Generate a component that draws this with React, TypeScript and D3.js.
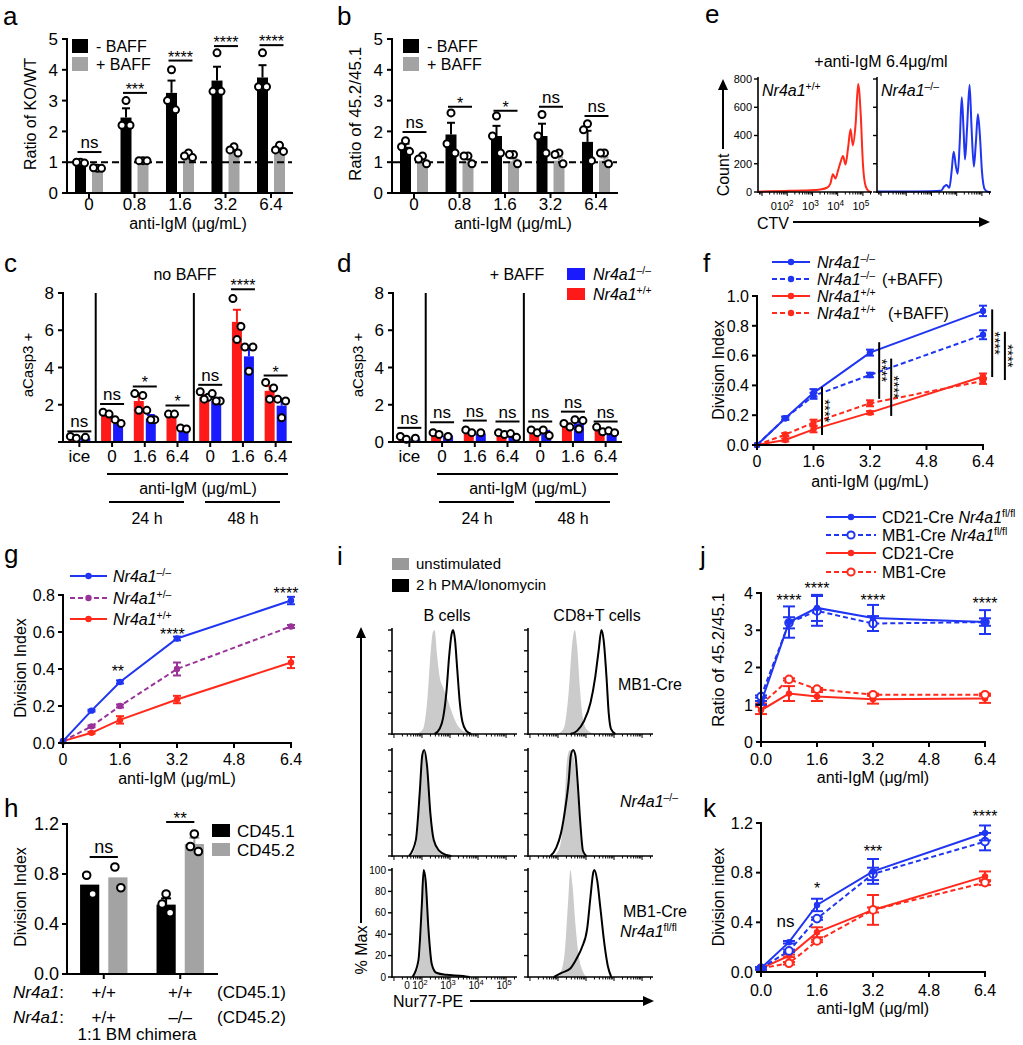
import React from "react";
import * as d3 from "d3";

const FONT = "'Liberation Sans', Arial, Helvetica, sans-serif";
const K = "#000";
const GRAY = "#a3a3a3";
const BAR_RED = "#ff1a1a";
const BAR_BLUE = "#1a1aff";
const RED = "#ff2a1c";
const BLUE = "#1f35f2";
const PURPLE = "#993399";
const HIST_FILL = "#cbcbcb";
const MU = "\u03bc";

// ---------------- panel a / b ----------------
const doseCats = ["0", "0.8", "1.6", "3.2", "6.4"];
const aNoBaff = [1.0, 2.45, 3.25, 3.65, 3.75];
const aNoBaffErr = [0.03, 0.3, 0.4, 0.45, 0.4];
const aBaff = [0.82, 1.05, 1.2, 1.3, 1.38];
const aBaffErr = [0.02, 0.02, 0.05, 0.08, 0.08];
const aNoBaffPts = [[1.0, 1.0, 0.97], [3.0, 2.2, 2.2], [4.0, 3.0, 2.7], [4.55, 3.3, 3.3], [4.55, 3.45, 3.45]];
const aBaffPts = [[0.8, 0.82, 0.8], [1.05, 1.05, 1.05], [1.3, 1.2, 1.15], [1.5, 1.4, 1.3], [1.55, 1.4, 1.35]];
const aSig = ["ns", "***", "****", "****", "****"];
const aSigY = [1.33, 3.25, 4.3, 4.77, 4.8];

const bNoBaff = [1.5, 1.9, 1.85, 1.85, 1.66];
const bNoBaffErr = [0.1, 0.38, 0.33, 0.4, 0.36];
const bBaff = [1.05, 1.02, 1.03, 1.05, 1.05];
const bBaffErr = [0.06, 0.07, 0.08, 0.1, 0.1];
const bNoBaffPts = [[1.7, 1.5, 1.35], [2.6, 1.6, 1.3], [2.5, 1.85, 1.3], [2.55, 1.85, 1.3], [2.25, 2.05, 1.05]];
const bBaffPts = [[1.2, 1.1, 0.95], [1.2, 1.2, 0.95], [1.25, 1.25, 0.95], [1.3, 1.25, 0.95], [1.3, 1.3, 0.95]];
const bSig = ["ns", "*", "*", "ns", "ns"];
const bSigY = [1.98, 2.8, 2.67, 2.8, 2.5];

// ---------------- panel c / d ----------------
const caspCats = ["ice", "0", "1.6", "6.4", "0", "1.6", "6.4"];
const cWT = [0.2, 1.5, 2.2, 1.5, 2.4, 6.45, 2.75];
const cWTErr = [0.05, 0.05, 0.28, 0.02, 0.12, 0.65, 0.25];
const cKO = [0.2, 1.0, 1.25, 0.75, 2.2, 4.6, 1.95];
const cKOErr = [0.03, 0.15, 0.2, 0.05, 0.12, 0.35, 0.3];
const cWTPts = [[0.3, 0.2], [1.6, 1.5], [2.6, 2.5, 1.7], [1.5, 1.5], [2.7, 2.4, 2.3], [7.7, 6.2, 5.5], [3.2, 2.9, 2.3]];
const cKOPts = [[0.25], [1.2, 1.0], [1.7, 1.2, 1.2], [0.75, 0.7], [2.6, 2.2, 2.2], [5.1, 5.1, 3.8], [2.3, 2.2, 1.3]];
const cSig = ["ns", "ns", "*", "*", "ns", "****", "*"];
const cSigY = [0.57, 2.04, 2.98, 1.96, 3.07, 8.2, 3.57];

const dWT = [0.2, 0.45, 0.6, 0.45, 0.55, 0.9, 0.6];
const dWTErr = [0.05, 0.05, 0.05, 0.05, 0.05, 0.1, 0.1];
const dKO = [0.15, 0.35, 0.45, 0.3, 0.5, 1.0, 0.45];
const dKOErr = [0.03, 0.03, 0.03, 0.1, 0.1, 0.15, 0.05];
const dWTPts = [[0.3, 0.15], [0.5, 0.4], [0.65, 0.5], [0.5, 0.4], [0.65, 0.5], [1.0, 0.8], [0.8, 0.55]];
const dKOPts = [[0.2], [0.3], [0.5], [0.45, 0.25], [0.65, 0.35], [1.2, 1.15, 0.7], [0.6, 0.5]];
const dSig = ["ns", "ns", "ns", "ns", "ns", "ns", "ns"];
const dSigY = [0.76, 1.06, 1.15, 1.1, 1.1, 1.63, 1.1];

// ---------------- panel e (CTV histograms) ----------------
const eWTLog = [0.84, 1.31, 2.0, 2.64, 3.1, 3.31, 3.57, 3.71, 3.81, 3.91, 4.01, 4.11, 4.21, 4.31, 4.41, 4.51, 4.6, 4.71, 4.81, 4.91, 5.0, 5.11, 5.24, 5.34];
const eWTCount = [2, 5, 8, 10, 14, 18, 30, 60, 125, 95, 150, 210, 255, 195, 310, 445, 330, 480, 765, 560, 200, 40, 5, 0];
const eKOLog = [0.84, 1.91, 2.97, 3.37, 3.51, 3.6, 3.71, 3.8, 3.88, 3.97, 4.04, 4.12, 4.2, 4.27, 4.33, 4.41, 4.51, 4.59, 4.68, 4.76, 4.84, 4.92, 5.0, 5.11, 5.24, 5.34];
const eKOCount = [3, 3, 5, 8, 40, 50, 30, 150, 285, 180, 130, 350, 670, 450, 230, 450, 760, 450, 180, 350, 550, 400, 150, 20, 2, 0];

// ---------------- panel f ----------------
const doseX = [0, 0.8, 1.6, 3.2, 6.4];
const fKO = [0, 0.18, 0.35, 0.62, 0.9];
const fKOErr = [0, 0.01, 0.025, 0.02, 0.035];
const fKOBaff = [0, 0.18, 0.33, 0.47, 0.74];
const fKOBaffErr = [0, 0.01, 0.02, 0.015, 0.03];
const fWT = [0, 0.034, 0.105, 0.217, 0.46];
const fWTErr = [0, 0.01, 0.02, 0.01, 0.02];
const fWTBaff = [0, 0.07, 0.15, 0.28, 0.43];
const fWTBaffErr = [0, 0.01, 0.02, 0.02, 0.02];
const fSigX = [1.84, 3.46, 3.8, 6.66, 7.02];
const fSigTop = [0.39, 0.69, 0.58, 0.91, 0.76];
const fSigBot = [0.067, 0.31, 0.195, 0.456, 0.436];

// ---------------- panel g ----------------
const gKO = [0.01, 0.175, 0.33, 0.565, 0.77];
const gKOErr = [0, 0.005, 0.008, 0.01, 0.02];
const gHet = [0.01, 0.09, 0.2, 0.4, 0.63];
const gHetErr = [0, 0.005, 0.008, 0.035, 0.008];
const gWT = [0.01, 0.055, 0.125, 0.235, 0.435];
const gWTErr = [0, 0.005, 0.02, 0.02, 0.03];
const gSig = ["**", "****", "****"];
const gSigX = [1.54, 3.07, 6.26];
const gSigY = [0.405, 0.605, 0.827];

// ---------------- panel h ----------------
const hGroups = ["wt", "ko"];
const hCD451 = [0.715, 0.555];
const hCD451Err = [0, 0.05];
const hCD452 = [0.773, 1.04];
const hCD452Err = [0, 0.05];
const hCD451Pts = [[0.79, 0.64], [0.64, 0.56, 0.49]];
const hCD452Pts = [[0.856, 0.69], [1.12, 1.02, 0.98]];
const hSig = ["ns", "**"];
const hSigY = [0.936, 1.216];
const hRow1 = ["+/+", "+/+"];
const hRow2 = ["+/+", "\u2013/\u2013"];

// ---------------- panel i (Nur77 histograms) ----------------
const iMb1BUnLog = [1.8, 2.04, 2.18, 2.3, 2.39, 2.45, 2.54, 2.63, 2.75, 2.89, 3.05, 3.23, 3.41, 3.64, 3.82];
const iMb1BUnPct = [0, 5, 30, 75, 98, 100, 75, 55, 45, 35, 22, 10, 4, 1, 0];
const iMb1BStLog = [2.45, 2.63, 2.75, 2.87, 2.97, 3.05, 3.11, 3.18, 3.25, 3.35, 3.44, 3.58, 3.76];
const iMb1BStPct = [0, 5, 15, 40, 75, 95, 100, 90, 65, 30, 12, 3, 0];
const iMb1TUnLog = [1.97, 2.2, 2.38, 2.5, 2.6, 2.68, 2.78, 2.89, 3.04, 3.28];
const iMb1TUnPct = [0, 5, 40, 85, 100, 85, 45, 15, 4, 0];
const iMb1TStLog = [2.44, 2.68, 2.92, 3.16, 3.33, 3.45, 3.55, 3.63, 3.73, 3.81, 3.89, 4.05];
const iMb1TStPct = [0, 3, 12, 30, 55, 80, 100, 90, 55, 20, 5, 0];
const iKoBUnLog = [1.62, 1.82, 1.94, 2.04, 2.1, 2.18, 2.28, 2.39, 2.57, 2.81, 2.99];
const iKoBUnPct = [0, 15, 60, 95, 100, 80, 45, 18, 5, 1, 0];
const iKoBStLog = [1.54, 1.78, 1.92, 2.01, 2.08, 2.18, 2.3, 2.42, 2.61, 2.87, 3.05];
const iKoBStPct = [0, 15, 60, 95, 100, 85, 40, 15, 5, 1, 0];
const iKoTUnLog = [1.85, 2.08, 2.23, 2.32, 2.42, 2.54, 2.63, 2.73, 2.82, 2.94];
const iKoTUnPct = [0, 10, 50, 90, 100, 95, 80, 50, 15, 0];
const iKoTStLog = [1.73, 1.94, 2.11, 2.26, 2.38, 2.46, 2.54, 2.62, 2.7, 2.8, 2.89, 3.01];
const iKoTStPct = [0, 8, 22, 45, 70, 95, 100, 95, 70, 30, 5, 0];
const iFlBUnLog = [1.7, 1.92, 2.01, 2.08, 2.16, 2.25, 2.37, 2.57, 2.99, 3.58];
const iFlBUnPct = [0, 15, 60, 100, 85, 40, 12, 4, 2, 0];
const iFlBStLog = [1.66, 1.87, 1.99, 2.06, 2.13, 2.23, 2.35, 2.51, 2.87, 3.47, 3.7];
const iFlBStPct = [0, 15, 65, 100, 90, 45, 12, 4, 2, 1, 0];
const iFlTUnLog = [2.03, 2.23, 2.36, 2.44, 2.52, 2.62, 2.74, 2.89, 3.04];
const iFlTUnPct = [0, 20, 70, 100, 85, 50, 20, 5, 0];
const iFlTStLog = [1.85, 2.14, 2.44, 2.68, 2.86, 3.04, 3.16, 3.26, 3.3, 3.4, 3.51, 3.66, 3.78, 3.9];
const iFlTStPct = [0, 4, 8, 18, 28, 45, 75, 98, 100, 90, 65, 30, 10, 0];

// ---------------- panel j / k ----------------
const jCd21Ko = [1.05, 3.22, 3.6, 3.33, 3.22];
const jCd21KoErr = [0.05, 0.42, 0.35, 0.35, 0.32];
const jMb1Ko = [1.22, 3.2, 3.52, 3.18, 3.22];
const jMb1KoErr = [0.03, 0.15, 0.4, 0.2, 0.1];
const jCd21 = [0.85, 1.3, 1.22, 1.15, 1.17];
const jCd21Err = [0.1, 0.2, 0.12, 0.12, 0.12];
const jMb1 = [1.0, 1.68, 1.42, 1.27, 1.27];
const jMb1Err = [0.03, 0.03, 0.03, 0.03, 0.03];
const jSig = ["****", "****", "****", "****"];
const jSigX = [0.8, 1.6, 3.2, 6.4];
const jSigY = [3.89, 4.21, 3.89, 3.81];

const kCd21Ko = [0.03, 0.24, 0.54, 0.81, 1.12];
const kCd21KoErr = [0.01, 0.01, 0.05, 0.1, 0.06];
const kMb1Ko = [0.03, 0.17, 0.43, 0.79, 1.05];
const kMb1KoErr = [0.01, 0.01, 0.01, 0.05, 0.07];
const kCd21 = [0.03, 0.13, 0.32, 0.5, 0.77];
const kCd21Err = [0.01, 0.01, 0.04, 0.12, 0.04];
const kMb1 = [0.03, 0.07, 0.25, 0.5, 0.72];
const kMb1Err = [0.01, 0.01, 0.01, 0.02, 0.02];
const kSig = ["ns", "*", "***", "****"];
const kSigX = [0.7, 1.6, 3.2, 6.4];
const kSigY = [0.395, 0.7, 1.0, 1.28];

const doseTicks = [0, 1.6, 3.2, 4.8, 6.4];

// ================= helpers =================
function YAxis({ x, y, ticks, fmt = (v: number) => String(v), fs = 16, len = 5, sw = 2, hide = [] as number[], gap = 3 }: any) {
  const [r0, r1] = y.range();
  return (
    <g>
      <line x1={x} x2={x} y1={r0 + sw / 2} y2={r1 - sw / 2} stroke={K} strokeWidth={sw} />
      {ticks.map((t: number) => (
        <g key={t}>
          <line x1={x - len} x2={x} y1={y(t)} y2={y(t)} stroke={K} strokeWidth={sw} />
          {!hide.includes(t) && (
            <text x={x - len - gap} y={y(t)} dy="0.36em" textAnchor="end" fontSize={fs}>
              {fmt(t)}
            </text>
          )}
        </g>
      ))}
    </g>
  );
}

function XAxis({ y0, positions, labels, x1, x2, fs = 16, len = 5, sw = 2, ly }: any) {
  return (
    <g>
      <line x1={x1} x2={x2} y1={y0} y2={y0} stroke={K} strokeWidth={sw} />
      {positions.map((p: number, i: number) => (
        <g key={i}>
          <line x1={p} x2={p} y1={y0} y2={y0 + len} stroke={K} strokeWidth={sw} />
          {labels && (
            <text x={p} y={ly} textAnchor="middle" fontSize={fs}>
              {labels[i]}
            </text>
          )}
        </g>
      ))}
    </g>
  );
}

function VLabel({ cx, cy, text, fs = 16 }: any) {
  return (
    <text transform={`translate(${cx},${cy}) rotate(-90)`} textAnchor="middle" dy="0.36em" fontSize={fs}>
      {text}
    </text>
  );
}

function NrText({ x, y, sup, fs = 16, pre = "", post = "", anchor = "start" }: any) {
  const d = fs * 0.4;
  return (
    <text x={x} y={y} fontSize={fs} textAnchor={anchor}>
      {pre ? <tspan>{pre}</tspan> : null}
      <tspan fontStyle="italic">Nr4a1</tspan>
      <tspan fontSize={fs * 0.65} dy={-d}>{sup}</tspan>
      {post ? <tspan fontSize={fs} dy={d}>{post}</tspan> : null}
    </text>
  );
}

function Dot({ cx, cy, r = 3.5 }: any) {
  return <circle cx={cx} cy={cy} r={r} fill="#fff" stroke={K} strokeWidth={2} />;
}

function SigText({ x, y, s, fs = 16 }: any) {
  const isStar = s.indexOf("*") >= 0;
  return (
    <text x={x} y={isStar ? y + 2 : y - 4} textAnchor="middle" fontSize={isStar ? fs : fs + 1}>
      {s}
    </text>
  );
}

function CenteredSig({ x, cy, s, fs = 16 }: any) {
  const isStar = s.indexOf("*") >= 0;
  return (
    <text x={x} y={isStar ? cy + fs * 0.57 : cy + fs * 0.27} textAnchor="middle" fontSize={isStar ? fs : fs + 1}>
      {s}
    </text>
  );
}

function LineSeries({ x, y, xs, ys, errs, color, dash, open = false, r = 3.2, cap = 4, sw = 2 }: any) {
  const idx = ys.map((_: number, i: number) => i);
  const line = d3
    .line<number>()
    .x((i) => x(xs[i]))
    .y((i) => y(ys[i]));
  return (
    <g>
      <path d={line(idx) || ""} fill="none" stroke={color} strokeWidth={sw} strokeDasharray={dash} />
      {ys.map((v: number, i: number) => {
        const e = errs ? errs[i] : 0;
        if (!e) return null;
        const cx = x(xs[i]);
        return (
          <g key={"e" + i} stroke={color} strokeWidth={sw}>
            <line x1={cx} x2={cx} y1={y(v - e)} y2={y(v + e)} />
            <line x1={cx - cap} x2={cx + cap} y1={y(v + e)} y2={y(v + e)} />
            <line x1={cx - cap} x2={cx + cap} y1={y(v - e)} y2={y(v - e)} />
          </g>
        );
      })}
      {ys.map((v: number, i: number) => (
        <circle key={"p" + i} cx={x(xs[i])} cy={y(v)} r={r} fill={open ? "#fff" : color} stroke={color} strokeWidth={open ? 2 : 0} />
      ))}
    </g>
  );
}

function LegendLine({ x1, x2, y, color, dash, open = false, r = 3.2 }: any) {
  return (
    <g>
      <line x1={x1} x2={x2} y1={y} y2={y} stroke={color} strokeWidth={2} strokeDasharray={dash} />
      <circle cx={(x1 + x2) / 2} cy={y} r={r} fill={open ? "#fff" : color} stroke={color} strokeWidth={open ? 2 : 0} />
    </g>
  );
}

function Letter({ x, y, t }: any) {
  return (
    <text x={x} y={y} fontSize={26}>
      {t}
    </text>
  );
}

function ArrowUp({ x, y1, y2 }: any) {
  return (
    <g>
      <line x1={x} x2={x} y1={y1} y2={y2 + 8} stroke={K} strokeWidth={2} />
      <polygon points={`${x - 5},${y2 + 11} ${x + 5},${y2 + 11} ${x},${y2}`} fill={K} />
    </g>
  );
}

function ArrowRight({ y, x1, x2 }: any) {
  return (
    <g>
      <line x1={x1} x2={x2 - 8} y1={y} y2={y} stroke={K} strokeWidth={2} />
      <polygon points={`${x2 - 11},${y - 5} ${x2 - 11},${y + 5} ${x2},${y}`} fill={K} />
    </g>
  );
}

function jitter(n: number, k: number, pattern: string) {
  if (n === 1) return 0;
  if (n === 2) return k === 0 ? -3 : 3;
  return pattern === "top" ? [0, -4, 4][k] : [-4, 4, 0][k];
}

// ================= panel a / b =================
function BaffPanel(p: any) {
  const { ox, noB, noBErr, wB, wBErr, noBPts, wBPts, sig, sigY, ylabel, ylabelFs, legX, letter, letterX } = p;
  const y = d3.scaleLinear().domain([0, 5]).range([193, 39]);
  const x0 = d3.scaleBand<string>().domain(doseCats).range([ox + 67, ox + 293]).paddingInner(0.385).paddingOuter(0.176);
  const x1 = d3.scaleBand<string>().domain(["no", "with"]).range([0, x0.bandwidth()]).paddingInner(0.353);
  const bw = x1.bandwidth();
  const series = [
    { key: "no", vals: noB, errs: noBErr, pts: noBPts, color: K },
    { key: "with", vals: wB, errs: wBErr, pts: wBPts, color: GRAY },
  ];
  const centers = doseCats.map((c) => x0(c)! + x0.bandwidth() / 2);
  return (
    <g>
      <Letter x={letterX} y={25} t={letter} />
      {series.map((s) =>
        doseCats.map((c, i) => {
          const bx = x0(c)! + x1(s.key)!;
          const v = s.vals[i];
          return <rect key={s.key + c} x={bx} y={y(v)} width={bw} height={y(0) - y(v)} fill={s.color} />;
        })
      )}
      <line x1={ox + 68} x2={ox + 292} y1={y(1)} y2={y(1)} stroke={K} strokeWidth={2} strokeDasharray="7,4" />
      {series.map((s) =>
        doseCats.map((c, i) => {
          const cx = x0(c)! + x1(s.key)! + bw / 2;
          const v = s.vals[i];
          const e = s.errs[i];
          return (
            <g key={"e" + s.key + c}>
              <g stroke={s.color} strokeWidth={2}>
                <line x1={cx} x2={cx} y1={y(v)} y2={y(v + e)} />
                <line x1={cx - 4} x2={cx + 4} y1={y(v + e)} y2={y(v + e)} />
              </g>
              {s.pts[i].map((pv: number, k: number) => (
                <Dot key={k} cx={cx + jitter(s.pts[i].length, k, "top")} cy={y(pv)} />
              ))}
            </g>
          );
        })
      )}
      {doseCats.map((c, i) => {
        const cb = x0(c)! + x1("no")! + bw / 2;
        const cg = x0(c)! + x1("with")! + bw / 2;
        const ly = y(sigY[i]);
        return (
          <g key={"s" + c}>
            <line x1={cb - 3} x2={cg + 4} y1={ly} y2={ly} stroke={K} strokeWidth={2} />
            <SigText x={(cb + cg) / 2 + 0.5} y={ly} s={sig[i]} />
          </g>
        );
      })}
      <YAxis x={ox + 67} y={y} ticks={[0, 1, 2, 3, 4, 5]} fs={17} gap={4} />
      <XAxis y0={193} positions={centers} labels={doseCats} x1={ox + 66} x2={ox + 293} ly={210} fs={17} />
      <text x={ox + 188} y={229} textAnchor="middle" fontSize={16}>
        {`anti-IgM (${MU}g/mL)`}
      </text>
      <VLabel cx={ox + 30} cy={114} text={ylabel} fs={ylabelFs} />
      <rect x={legX} y={39} width={16} height={14} fill={K} />
      <text x={legX + 24} y={52} fontSize={16}>
        - BAFF
      </text>
      <rect x={legX} y={57} width={16} height={14} fill={GRAY} />
      <text x={legX + 24} y={70} fontSize={16}>
        + BAFF
      </text>
    </g>
  );
}

// ================= panel c / d =================
function CaspPanel(p: any) {
  const { ox, wt, wtErr, ko, koErr, wtPts, koPts, sig, sigY, title, titleX, showZero, letter, letterX, legend } = p;
  const y = d3.scaleLinear().domain([0, 8]).range([442, 293]);
  const xb = d3.scaleBand<number>().domain(d3.range(caspCats.length)).range([ox + 63, ox + 292]);
  const cx = (i: number) => xb(i)! + xb.bandwidth() / 2;
  const groups = [
    { vals: wt, errs: wtErr, pts: wtPts, color: BAR_RED, dx: -6 },
    { vals: ko, errs: koErr, pts: koPts, color: BAR_BLUE, dx: 6 },
  ];
  return (
    <g>
      <Letter x={letterX} y={272} t={letter} />
      <text x={titleX} y={280} textAnchor="middle" fontSize={16}>
        {title}
      </text>
      {groups.map((g, gi) =>
        caspCats.map((_, i) => {
          const c = cx(i) + g.dx;
          const v = g.vals[i];
          return <rect key={gi + "_" + i} x={c - 5} y={y(v)} width={10} height={y(0) - y(v)} fill={g.color} />;
        })
      )}
      {groups.map((g, gi) =>
        caspCats.map((_, i) => {
          const c = cx(i) + g.dx;
          const v = g.vals[i];
          const e = g.errs[i];
          return (
            <g key={"e" + gi + "_" + i}>
              <g stroke={g.color} strokeWidth={2}>
                <line x1={c} x2={c} y1={y(v)} y2={y(v + e)} />
                <line x1={c - 4} x2={c + 4} y1={y(v + e)} y2={y(v + e)} />
              </g>
              {g.pts[i].map((pv: number, k: number) => (
                <Dot key={k} cx={c + jitter(g.pts[i].length, k, "side")} cy={y(pv)} />
              ))}
            </g>
          );
        })
      )}
      {caspCats.map((_, i) => {
        const ly = y(sigY[i]);
        return (
          <g key={"s" + i}>
            <line x1={cx(i) - 12} x2={cx(i) + 12} y1={ly} y2={ly} stroke={K} strokeWidth={2} />
            <SigText x={cx(i)} y={ly} s={sig[i]} />
          </g>
        );
      })}
      <line x1={xb(1)!} x2={xb(1)!} y1={y(0)} y2={y(8)} stroke={K} strokeWidth={2} />
      <line x1={xb(4)!} x2={xb(4)!} y1={y(0)} y2={y(8)} stroke={K} strokeWidth={2} />
      <YAxis x={ox + 63} y={y} ticks={[0, 2, 4, 6, 8]} fs={17} gap={4} hide={showZero ? [] : [0]} />
      <XAxis y0={442} positions={caspCats.map((_, i) => cx(i))} labels={caspCats} x1={ox + 62} x2={ox + 292} ly={462} fs={17} />
      <VLabel cx={ox + 28} cy={365} text="aCasp3 +" fs={15} />
      <line x1={ox + 107} x2={ox + 288} y1={474} y2={474} stroke={K} strokeWidth={2} />
      <text x={ox + 198} y={494} textAnchor="middle" fontSize={16}>
        {`anti-IgM (${MU}g/mL)`}
      </text>
      <line x1={ox + 109} x2={ox + 184} y1={502} y2={502} stroke={K} strokeWidth={2} />
      <line x1={ox + 205} x2={ox + 280} y1={502} y2={502} stroke={K} strokeWidth={2} />
      <text x={ox + 147} y={524} textAnchor="middle" fontSize={16}>
        24 h
      </text>
      <text x={ox + 243} y={524} textAnchor="middle" fontSize={16}>
        48 h
      </text>
      {legend && (
        <g>
          <rect x={567} y={268} width={18} height={12} fill={BAR_BLUE} />
          <NrText x={593} y={280} sup={"\u2013/\u2013"} fs={16} />
          <rect x={567} y={288} width={18} height={12} fill={BAR_RED} />
          <NrText x={593} y={300} sup="+/+" fs={16} />
        </g>
      )}
    </g>
  );
}

// ================= flow histogram =================
function flowTicks(lo: number, hi: number) {
  const out: { v: number; major: boolean }[] = [];
  for (let d = 0; d <= 5; d++)
    for (let k = 1; k <= 9; k++) {
      const v = d + Math.log10(k);
      if (v >= lo + 0.05 && v <= hi - 0.02) out.push({ v, major: k === 1 });
    }
  return out;
}

function FlowHist(p: any) {
  const { x0, w, top, bot, domain, ymax, yStep, curves, yLabels = false, xLabels = false, labelFs = 10, xLabelY } = p;
  const x = d3.scaleLinear().domain(domain).range([x0, x0 + w]);
  const y = d3.scaleLinear().domain([0, ymax]).range([bot, top]);
  const yTicks = d3.range(0, ymax + 0.001, yStep);
  const ticks = flowTicks(domain[0], domain[1]);
  return (
    <g>
      {curves.map((c: any, k: number) => {
        const idx = c.xs.map((_: number, i: number) => i);
        if (c.fill) {
          const area = d3
            .area<number>()
            .x((i) => x(c.xs[i]))
            .y0(bot)
            .y1((i) => y(c.ys[i]))
            .curve(d3.curveMonotoneX);
          return <path key={k} d={area(idx) || ""} fill={c.fill} />;
        }
        const line = d3
          .line<number>()
          .x((i) => x(c.xs[i]))
          .y((i) => y(c.ys[i]))
          .curve(d3.curveMonotoneX);
        return <path key={k} d={line(idx) || ""} fill="none" stroke={c.stroke} strokeWidth={2} strokeLinejoin="round" />;
      })}
      <line x1={x0} x2={x0} y1={bot + 1} y2={top - 2} stroke={K} strokeWidth={1.6} />
      <line x1={x0} x2={x0 + w} y1={bot} y2={bot} stroke={K} strokeWidth={1.6} />
      {yTicks.map((t: number) => (
        <g key={"y" + t}>
          <line x1={x0 - 4} x2={x0} y1={y(t)} y2={y(t)} stroke={K} strokeWidth={1.4} />
          {yLabels && (
            <text x={x0 - 6} y={y(t)} dy="0.36em" textAnchor="end" fontSize={labelFs}>
              {t}
            </text>
          )}
        </g>
      ))}
      {ticks.map((t, i) => (
        <line key={"x" + i} x1={x(t.v)} x2={x(t.v)} y1={bot} y2={bot + (t.major ? 4 : 2.5)} stroke={K} strokeWidth={1} />
      ))}
      {xLabels && (
        <g fontSize={labelFs}>
          <text x={x(1.47)} y={xLabelY} textAnchor="middle">
            0
          </text>
          {[2, 3, 4, 5].map((d) => (
            <text key={d} x={x(d) - 2} y={xLabelY} textAnchor="middle">
              10
              <tspan dy={-4} fontSize={labelFs * 0.75}>
                {d}
              </tspan>
            </text>
          ))}
        </g>
      )}
    </g>
  );
}

function PanelE() {
  const dom = [0.84, 5.36];
  return (
    <g>
      <Letter x={705} y={23} t="e" />
      <text x={881} y={67} textAnchor="middle" fontSize={16}>
        {`+anti-IgM 6.4${MU}g/ml`}
      </text>
      <FlowHist x0={758} w={114} top={79} bot={192} domain={dom} ymax={800} yStep={200} yLabels xLabels labelFs={11} xLabelY={210}
        curves={[{ xs: eWTLog, ys: eWTCount, stroke: RED }]} />
      <FlowHist x0={877} w={114} top={79} bot={192} domain={dom} ymax={800} yStep={200}
        curves={[{ xs: eKOLog, ys: eKOCount, stroke: BLUE }]} />
      <NrText x={762} y={96} sup="+/+" fs={16} />
      <NrText x={881} y={96} sup={"\u2013/\u2013"} fs={16} />
      <VLabel cx={723} cy={175} text="Count" fs={16} />
      <ArrowUp x={723} y1={149} y2={79} />
      <text x={757} y={229} fontSize={16}>
        CTV
      </text>
      <ArrowRight y={222} x1={793} x2={990} />
    </g>
  );
}

// ================= panel f =================
function PanelF() {
  const x = d3.scaleLinear().domain([0, 6.4]).range([757, 983]);
  const y = d3.scaleLinear().domain([0, 1]).range([445, 296]);
  const fmt = d3.format(".1f");
  const L = [262, 279, 296, 313];
  return (
    <g>
      <Letter x={703} y={272} t="f" />
      <LegendLine x1={772} x2={810} y={L[0]} color={BLUE} />
      <NrText x={817} y={L[0] + 6} sup={"\u2013/\u2013"} />
      <LegendLine x1={772} x2={810} y={L[1]} color={BLUE} dash="5,3" />
      <NrText x={817} y={L[1] + 6} sup={"\u2013/\u2013"} />
      <text x={882} y={L[1] + 6} fontSize={16}>(+BAFF)</text>
      <LegendLine x1={772} x2={810} y={L[2]} color={RED} />
      <NrText x={817} y={L[2] + 6} sup="+/+" />
      <LegendLine x1={772} x2={810} y={L[3]} color={RED} dash="5,3" />
      <NrText x={817} y={L[3] + 6} sup="+/+" />
      <text x={888} y={L[3] + 6} fontSize={16}>(+BAFF)</text>

      <LineSeries x={x} y={y} xs={doseX} ys={fWT} errs={fWTErr} color={RED} />
      <LineSeries x={x} y={y} xs={doseX} ys={fWTBaff} errs={fWTBaffErr} color={RED} dash="5,3" />
      <LineSeries x={x} y={y} xs={doseX} ys={fKOBaff} errs={fKOBaffErr} color={BLUE} dash="5,3" />
      <LineSeries x={x} y={y} xs={doseX} ys={fKO} errs={fKOErr} color={BLUE} />

      {fSigX.map((sx, i) => (
        <g key={i}>
          <line x1={x(sx)} x2={x(sx)} y1={y(fSigTop[i])} y2={y(fSigBot[i])} stroke={K} strokeWidth={2} />
          <text transform={`translate(${x(sx) - 2},${(y(fSigTop[i]) + y(fSigBot[i])) / 2}) rotate(90)`} textAnchor="middle" fontSize={15}>
            ****
          </text>
        </g>
      ))}
      <YAxis x={757} y={y} ticks={[0, 0.2, 0.4, 0.6, 0.8, 1.0]} fmt={fmt} fs={16} />
      <XAxis y0={445} positions={doseTicks.map((t) => x(t))} labels={["0", "1.6", "3.2", "4.8", "6.4"]} x1={756} x2={984} ly={467} fs={16} />
      <text x={870} y={487} textAnchor="middle" fontSize={16}>
        {`anti-IgM  (${MU}g/mL)`}
      </text>
      <VLabel cx={718} cy={370} text="Division Index" fs={16} />
    </g>
  );
}

// ================= panel g =================
function PanelG() {
  const x = d3.scaleLinear().domain([0, 6.4]).range([63, 291]);
  const y = d3.scaleLinear().domain([0, 0.8]).range([743, 595]);
  const fmt = d3.format(".1f");
  const L = [576, 598, 619];
  return (
    <g>
      <Letter x={4} y={563} t="g" />
      <LegendLine x1={70} x2={107} y={L[0]} color={BLUE} />
      <NrText x={113} y={L[0] + 6} sup={"\u2013/\u2013"} />
      <LegendLine x1={70} x2={107} y={L[1]} color={PURPLE} dash="5,3" />
      <NrText x={113} y={L[1] + 6} sup={"+/\u2013"} />
      <LegendLine x1={70} x2={107} y={L[2]} color={RED} />
      <NrText x={113} y={L[2] + 6} sup="+/+" />

      <LineSeries x={x} y={y} xs={doseX} ys={gWT} errs={gWTErr} color={RED} />
      <LineSeries x={x} y={y} xs={doseX} ys={gHet} errs={gHetErr} color={PURPLE} dash="5,3" />
      <LineSeries x={x} y={y} xs={doseX} ys={gKO} errs={gKOErr} color={BLUE} />
      {gSig.map((s, i) => (
        <CenteredSig key={i} x={x(gSigX[i])} cy={y(gSigY[i])} s={s} />
      ))}
      <YAxis x={63} y={y} ticks={[0, 0.2, 0.4, 0.6, 0.8]} fmt={fmt} fs={16} />
      <XAxis y0={743} positions={doseTicks.map((t) => x(t))} labels={["0", "1.6", "3.2", "4.8", "6.4"]} x1={62} x2={292} ly={765} fs={16} />
      <text x={177} y={784} textAnchor="middle" fontSize={16}>
        {`anti-IgM (${MU}g/mL)`}
      </text>
      <VLabel cx={20} cy={668} text="Division Index" fs={16} />
    </g>
  );
}

// ================= panel h =================
function PanelH() {
  const y = d3.scaleLinear().domain([0, 1.2]).range([974, 824]);
  const x0 = d3.scaleBand<string>().domain(hGroups).range([66, 218]).paddingInner(0.38).paddingOuter(0.184);
  const x1 = d3.scaleBand<string>().domain(["a", "b"]).range([0, x0.bandwidth()]).paddingInner(0.32);
  const bw = x1.bandwidth();
  const fmt = d3.format(".1f");
  const series = [
    { key: "a", vals: hCD451, errs: hCD451Err, pts: hCD451Pts, color: K },
    { key: "b", vals: hCD452, errs: hCD452Err, pts: hCD452Pts, color: GRAY },
  ];
  const centers = hGroups.map((g) => x0(g)! + x0.bandwidth() / 2);
  return (
    <g>
      <Letter x={4} y={817} t="h" />
      {series.map((s) =>
        hGroups.map((g, i) => {
          const bx = x0(g)! + x1(s.key)!;
          const cx = bx + bw / 2;
          const v = s.vals[i];
          const e = s.errs[i];
          return (
            <g key={s.key + g}>
              <rect x={bx} y={y(v)} width={bw} height={y(0) - y(v)} fill={s.color} />
              {e > 0 && (
                <g stroke={s.color} strokeWidth={2}>
                  <line x1={cx} x2={cx} y1={y(v)} y2={y(v + e)} />
                  <line x1={cx - 5} x2={cx + 5} y1={y(v + e)} y2={y(v + e)} />
                </g>
              )}
              {s.pts[i].map((pv: number, k: number) => (
                <Dot key={k} cx={cx + jitter(s.pts[i].length, k, "top")} cy={y(pv)} r={3.8} />
              ))}
            </g>
          );
        })
      )}
      {hGroups.map((g, i) => {
        const ca = x0(g)! + x1("a")! + bw / 2;
        const cb = x0(g)! + x1("b")! + bw / 2;
        const ly = y(hSigY[i]);
        return (
          <g key={"s" + g}>
            <line x1={ca} x2={cb} y1={ly} y2={ly} stroke={K} strokeWidth={2} />
            <SigText x={(ca + cb) / 2} y={ly} s={hSig[i]} fs={17} />
          </g>
        );
      })}
      <YAxis x={67} y={y} ticks={[0, 0.4, 0.8, 1.2]} fmt={fmt} fs={18} gap={3} />
      <XAxis y0={974} positions={centers} x1={66} x2={218} />
      <VLabel cx={20} cy={897} text="Division Index" fs={16} />
      <rect x={212} y={824} width={18} height={13} fill={K} />
      <text x={237} y={837} fontSize={17}>CD45.1</text>
      <rect x={212} y={843} width={18} height={13} fill={GRAY} />
      <text x={237} y={856} fontSize={17}>CD45.2</text>
      <text x={13} y={998} fontSize={17}>
        <tspan fontStyle="italic">Nr4a1</tspan>:
      </text>
      <text x={13} y={1023} fontSize={17}>
        <tspan fontStyle="italic">Nr4a1</tspan>:
      </text>
      {hGroups.map((g, i) => (
        <g key={"r" + g}>
          <text x={centers[i]} y={998} textAnchor="middle" fontSize={17}>{hRow1[i]}</text>
          <text x={centers[i]} y={1023} textAnchor="middle" fontSize={17}>{hRow2[i]}</text>
        </g>
      ))}
      <text x={217} y={998} fontSize={17}>(CD45.1)</text>
      <text x={217} y={1023} fontSize={17}>(CD45.2)</text>
      <text x={137} y={1040} textAnchor="middle" fontSize={17}>1:1 BM chimera</text>
    </g>
  );
}

// ================= panel i =================
function PanelI() {
  const cols = [392, 528];
  const rows = [
    { top: 628, bot: 734 },
    { top: 748, bot: 856 },
    { top: 868, bot: 977 },
  ];
  const data = [
    [
      [iMb1BUnLog, iMb1BUnPct, iMb1BStLog, iMb1BStPct],
      [iMb1TUnLog, iMb1TUnPct, iMb1TStLog, iMb1TStPct],
    ],
    [
      [iKoBUnLog, iKoBUnPct, iKoBStLog, iKoBStPct],
      [iKoTUnLog, iKoTUnPct, iKoTStLog, iKoTStPct],
    ],
    [
      [iFlBUnLog, iFlBUnPct, iFlBStLog, iFlBStPct],
      [iFlTUnLog, iFlTUnPct, iFlTStLog, iFlTStPct],
    ],
  ];
  return (
    <g>
      <Letter x={337} y={565} t="i" />
      <rect x={392} y={558} width={17} height={12} fill="#999" />
      <text x={416} y={569} fontSize={15}>unstimulated</text>
      <rect x={392} y={579} width={17} height={13} fill={K} />
      <text x={416} y={590} fontSize={15}>2 h PMA/Ionomycin</text>
      <text x={447} y={621} textAnchor="middle" fontSize={16}>B cells</text>
      <text x={597} y={621} textAnchor="middle" fontSize={16}>CD8+T cells</text>
      {rows.map((r, ri) =>
        cols.map((cx, ci) => {
          const d = data[ri][ci];
          const isLabel = ri === 2 && ci === 0;
          return (
            <FlowHist key={ri + "_" + ci} x0={cx} w={125} top={r.top + 2} bot={r.bot} domain={[0.93, 5.39]} ymax={100} yStep={20}
              yLabels={isLabel} xLabels={isLabel} labelFs={10} xLabelY={989}
              curves={[
                { xs: d[0], ys: d[1], fill: HIST_FILL },
                { xs: d[2], ys: d[3], stroke: K },
              ]} />
          );
        })
      )}
      <text x={618} y={690} fontSize={16}>MB1-Cre</text>
      <NrText x={620} y={807} sup={"\u2013/\u2013"} fs={16} />
      <text x={623} y={917} fontSize={16}>MB1-Cre</text>
      <NrText x={620} y={937} sup="fl/fl" fs={16} />
      <VLabel cx={361} cy={950} text="% Max" fs={16} />
      <ArrowUp x={361} y1={923} y2={627} />
      <text x={393} y={1007} fontSize={16}>Nur77-PE</text>
      <ArrowRight y={1001} x1={470} x2={654} />
    </g>
  );
}

// ================= panel j / k =================
function JKLegend() {
  const L = [517, 535, 553, 572];
  const x1 = 826;
  const x2 = 876;
  return (
    <g>
      <LegendLine x1={x1} x2={x2} y={L[0]} color={BLUE} />
      <NrText x={882} y={L[0] + 6} pre="CD21-Cre " sup="fl/fl" fs={16} />
      <LegendLine x1={x1} x2={x2} y={L[1]} color={BLUE} dash="5,3" open r={3.6} />
      <NrText x={882} y={L[1] + 6} pre="MB1-Cre " sup="fl/fl" fs={16} />
      <LegendLine x1={x1} x2={x2} y={L[2]} color={RED} />
      <text x={882} y={L[2] + 6} fontSize={16}>CD21-Cre</text>
      <LegendLine x1={x1} x2={x2} y={L[3]} color={RED} dash="5,3" open r={3.6} />
      <text x={882} y={L[3] + 6} fontSize={16}>MB1-Cre</text>
    </g>
  );
}

function PanelJ() {
  const x = d3.scaleLinear().domain([0, 6.4]).range([761, 985]);
  const y = d3.scaleLinear().domain([0, 4]).range([742, 593]);
  const fmt = d3.format(".1f");
  return (
    <g>
      <Letter x={700} y={565} t="j" />
      <LineSeries x={x} y={y} xs={doseX} ys={jCd21} errs={jCd21Err} color={RED} cap={6} />
      <LineSeries x={x} y={y} xs={doseX} ys={jMb1} errs={jMb1Err} color={RED} dash="5,3" open r={3.8} cap={6} />
      <LineSeries x={x} y={y} xs={doseX} ys={jMb1Ko} errs={jMb1KoErr} color={BLUE} dash="5,3" open r={3.8} cap={6} />
      <LineSeries x={x} y={y} xs={doseX} ys={jCd21Ko} errs={jCd21KoErr} color={BLUE} cap={6} />
      {jSig.map((s, i) => (
        <CenteredSig key={i} x={x(jSigX[i])} cy={y(jSigY[i])} s={s} />
      ))}
      <YAxis x={761} y={y} ticks={[0, 1, 2, 3, 4]} fs={16} />
      <XAxis y0={742} positions={doseTicks.map((t) => x(t))} labels={doseTicks.map((t) => fmt(t))} x1={760} x2={986} ly={765} fs={16} />
      <text x={873} y={783} textAnchor="middle" fontSize={16}>
        {`anti-IgM (${MU}g/ml)`}
      </text>
      <VLabel cx={718} cy={660} text="Ratio of 45.2/45.1" fs={17} />
    </g>
  );
}

function PanelK() {
  const x = d3.scaleLinear().domain([0, 6.4]).range([761, 985]);
  const y = d3.scaleLinear().domain([0, 1.2]).range([972, 823]);
  const fmt = d3.format(".1f");
  return (
    <g>
      <Letter x={703} y={817} t="k" />
      <LineSeries x={x} y={y} xs={doseX} ys={kCd21} errs={kCd21Err} color={RED} cap={6} />
      <LineSeries x={x} y={y} xs={doseX} ys={kMb1} errs={kMb1Err} color={RED} dash="5,3" open r={3.8} cap={6} />
      <LineSeries x={x} y={y} xs={doseX} ys={kMb1Ko} errs={kMb1KoErr} color={BLUE} dash="5,3" open r={3.8} cap={6} />
      <LineSeries x={x} y={y} xs={doseX} ys={kCd21Ko} errs={kCd21KoErr} color={BLUE} cap={6} />
      {kSig.map((s, i) => (
        <CenteredSig key={i} x={x(kSigX[i])} cy={y(kSigY[i])} s={s} />
      ))}
      <YAxis x={761} y={y} ticks={[0, 0.4, 0.8, 1.2]} fmt={fmt} fs={16} />
      <XAxis y0={972} positions={doseTicks.map((t) => x(t))} labels={doseTicks.map((t) => fmt(t))} x1={760} x2={986} ly={996} fs={16} />
      <text x={873} y={1014} textAnchor="middle" fontSize={16}>
        {`anti-IgM (${MU}g/ml)`}
      </text>
      <VLabel cx={718} cy={897} text="Division index" fs={16} />
    </g>
  );
}

export default function App() {
  return (
    <svg
      width={1023}
      height={1045}
      viewBox="0 0 1023 1045"
      style={{ position: "absolute", left: 0, top: 0, background: "#fff" }}
      fontFamily={FONT}
    >
      <rect width={1023} height={1045} fill="#fff" />
      <BaffPanel ox={0} noB={aNoBaff} noBErr={aNoBaffErr} wB={aBaff} wBErr={aBaffErr} noBPts={aNoBaffPts} wBPts={aBaffPts}
        sig={aSig} sigY={aSigY} ylabel="Ratio of KO/WT" ylabelFs={16} legX={72} letter="a" letterX={3} />
      <BaffPanel ox={325} noB={bNoBaff} noBErr={bNoBaffErr} wB={bBaff} wBErr={bBaffErr} noBPts={bNoBaffPts} wBPts={bBaffPts}
        sig={bSig} sigY={bSigY} ylabel="Ratio of 45.2/45.1" ylabelFs={17} legX={403} letter="b" letterX={337} />
      <CaspPanel ox={0} wt={cWT} wtErr={cWTErr} ko={cKO} koErr={cKOErr} wtPts={cWTPts} koPts={cKOPts} sig={cSig} sigY={cSigY}
        title="no BAFF" titleX={185} showZero={false} letter="c" letterX={4} />
      <CaspPanel ox={330} wt={dWT} wtErr={dWTErr} ko={dKO} koErr={dKOErr} wtPts={dWTPts} koPts={dKOPts} sig={dSig} sigY={dSigY}
        title="+ BAFF" titleX={517} showZero letter="d" letterX={337} legend />
      <PanelE />
      <PanelF />
      <PanelG />
      <PanelH />
      <PanelI />
      <JKLegend />
      <PanelJ />
      <PanelK />
    </svg>
  );
}
